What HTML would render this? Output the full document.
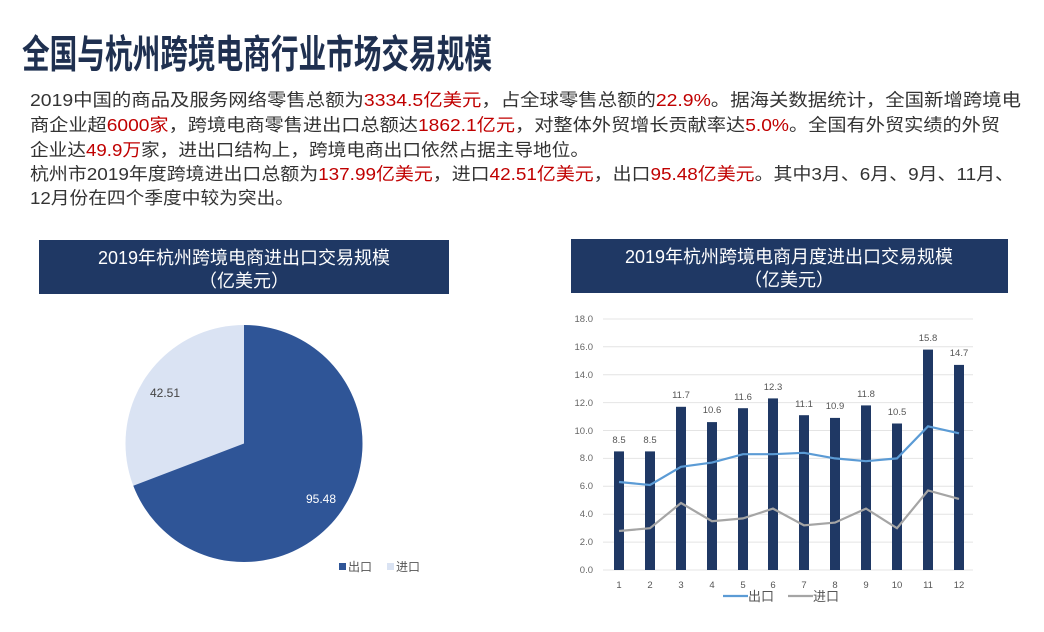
<!DOCTYPE html>
<html><head><meta charset="utf-8"><style>
html,body{margin:0;padding:0;background:#fff;}
svg{display:block;font-family:"Liberation Sans","Noto Sans CJK SC",sans-serif;}
</style></head><body>
<svg width="1044" height="632" viewBox="0 0 1044 632" xmlns="http://www.w3.org/2000/svg">
<text x="22" y="68" font-size="39" font-weight="bold" fill="#1f3050" textLength="470" lengthAdjust="spacingAndGlyphs">全国与杭州跨境电商行业市场交易规模</text>
<g font-size="17.5" fill="#333">
<text x="30" y="106" textLength="991" lengthAdjust="spacingAndGlyphs">2019中国的商品及服务网络零售总额为<tspan fill="#c00000">3334.5亿美元</tspan>，占全球零售总额的<tspan fill="#c00000">22.9%</tspan>。据海关数据统计，全国新增跨境电</text>
<text x="30" y="131" textLength="970" lengthAdjust="spacingAndGlyphs">商企业超<tspan fill="#c00000">6000家</tspan>，跨境电商零售进出口总额达<tspan fill="#c00000">1862.1亿元</tspan>，对整体外贸增长贡献率达<tspan fill="#c00000">5.0%</tspan>。全国有外贸实绩的外贸</text>
<text x="30" y="156" textLength="559" lengthAdjust="spacingAndGlyphs">企业达<tspan fill="#c00000">49.9万</tspan>家，进出口结构上，跨境电商出口依然占据主导地位。</text>
<text x="30" y="180" textLength="984" lengthAdjust="spacingAndGlyphs">杭州市2019年度跨境进出口总额为<tspan fill="#c00000">137.99亿美元</tspan>，进口<tspan fill="#c00000">42.51亿美元</tspan>，出口<tspan fill="#c00000">95.48亿美元</tspan>。其中3月、6月、9月、11月、</text>
<text x="30" y="204" textLength="264" lengthAdjust="spacingAndGlyphs">12月份在四个季度中较为突出。</text>
</g>
<rect x="39" y="240" width="410" height="54" fill="#1f3864"/>
<rect x="571" y="239" width="437" height="54" fill="#1f3864"/>
<g fill="#fff" font-size="18" text-anchor="middle">
<text x="244" y="264">2019年杭州跨境电商进出口交易规模</text>
<text x="244" y="287">（亿美元）</text>
<text x="789" y="263">2019年杭州跨境电商月度进出口交易规模</text>
<text x="789" y="286">（亿美元）</text>
</g>
<circle cx="244" cy="443.5" r="118.5" fill="#dae3f3"/>
<path d="M244,443.5 L244,325 A118.5,118.5 0 1 1 133.3,485.8 Z" fill="#2f5597"/>
<text x="150" y="397" font-size="12" fill="#444">42.51</text>
<text x="306" y="503" font-size="12" fill="#fff">95.48</text>
<rect x="339" y="563" width="7" height="7" fill="#2f5597"/>
<text x="348" y="571" font-size="12" fill="#555">出口</text>
<rect x="387" y="563" width="7" height="7" fill="#dae3f3"/>
<text x="396" y="571" font-size="12" fill="#555">进口</text>
<g stroke="#e4e4e4" stroke-width="1">
<line x1="603" x2="973" y1="570" y2="570"/><line x1="603" x2="973" y1="542.1" y2="542.1"/>
<line x1="603" x2="973" y1="514.2" y2="514.2"/><line x1="603" x2="973" y1="486.3" y2="486.3"/>
<line x1="603" x2="973" y1="458.4" y2="458.4"/><line x1="603" x2="973" y1="430.5" y2="430.5"/>
<line x1="603" x2="973" y1="402.6" y2="402.6"/><line x1="603" x2="973" y1="374.7" y2="374.7"/>
<line x1="603" x2="973" y1="346.8" y2="346.8"/><line x1="603" x2="973" y1="319" y2="319"/>
</g>
<g font-size="9.5" fill="#666" text-anchor="end">
<text x="593" y="573">0.0</text><text x="593" y="545">2.0</text><text x="593" y="517">4.0</text>
<text x="593" y="489">6.0</text><text x="593" y="461">8.0</text><text x="593" y="434">10.0</text>
<text x="593" y="406">12.0</text><text x="593" y="378">14.0</text><text x="593" y="350">16.0</text>
<text x="593" y="322">18.0</text>
</g>
<g fill="#1f3864">
<rect x="614" y="451.4" width="10" height="118.6"/>
<rect x="645" y="451.4" width="10" height="118.6"/>
<rect x="676" y="406.8" width="10" height="163.2"/>
<rect x="707" y="422.1" width="10" height="147.9"/>
<rect x="738" y="408.2" width="10" height="161.8"/>
<rect x="768" y="398.4" width="10" height="171.6"/>
<rect x="799" y="415.2" width="10" height="154.8"/>
<rect x="830" y="417.9" width="10" height="152.1"/>
<rect x="861" y="405.4" width="10" height="164.6"/>
<rect x="892" y="423.5" width="10" height="146.5"/>
<rect x="923" y="349.6" width="10" height="220.4"/>
<rect x="954" y="364.9" width="10" height="205.1"/>
</g>
<g font-size="9.5" fill="#555" text-anchor="middle">
<text x="619" y="443">8.5</text><text x="650" y="443">8.5</text><text x="681" y="398">11.7</text>
<text x="712" y="413">10.6</text><text x="743" y="400">11.6</text><text x="773" y="390">12.3</text>
<text x="804" y="407">11.1</text><text x="835" y="409">10.9</text><text x="866" y="397">11.8</text>
<text x="897" y="415">10.5</text><text x="928" y="341">15.8</text><text x="959" y="356">14.7</text>
</g>
<polyline fill="none" stroke="#5b9bd5" stroke-width="2.2" points="619,482 650,485 681,466.8 712,462.6 743,454.2 773,454.2 804,452.8 835,458.4 866,461.2 897,458.4 928,426.3 959,433.3"/>
<polyline fill="none" stroke="#a5a5a5" stroke-width="2.2" points="619,531 650,528.2 681,503 712,521.2 743,518.4 773,508.6 804,525.4 835,522.6 866,508.6 897,528.2 928,490.5 959,498.9"/>
<g font-size="9.5" fill="#555" text-anchor="middle">
<text x="619" y="588">1</text><text x="650" y="588">2</text><text x="681" y="588">3</text>
<text x="712" y="588">4</text><text x="743" y="588">5</text><text x="773" y="588">6</text>
<text x="804" y="588">7</text><text x="835" y="588">8</text><text x="866" y="588">9</text>
<text x="897" y="588">10</text><text x="928" y="588">11</text><text x="959" y="588">12</text>
</g>
<line x1="723" x2="748" y1="596" y2="596" stroke="#5b9bd5" stroke-width="2.2"/>
<text x="748" y="601" font-size="13" fill="#555">出口</text>
<line x1="788" x2="813" y1="596" y2="596" stroke="#a5a5a5" stroke-width="2.2"/>
<text x="813" y="601" font-size="13" fill="#555">进口</text>
</svg>
</body></html>
